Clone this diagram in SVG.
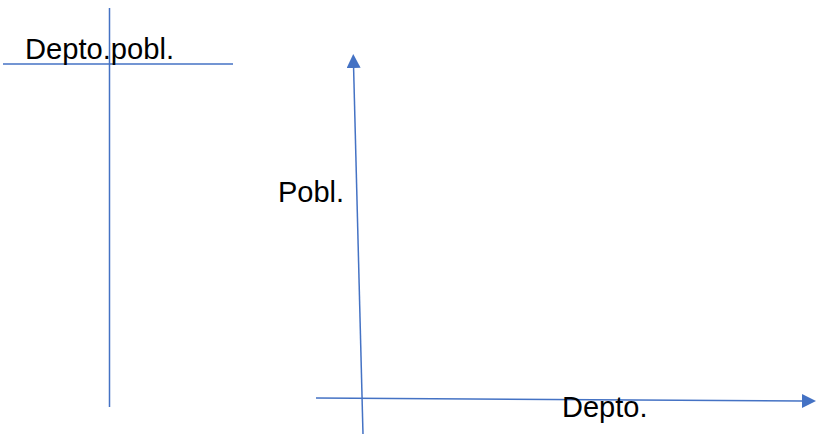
<svg xmlns="http://www.w3.org/2000/svg" width="817" height="434" viewBox="0 0 817 434">
<style>
.ln{stroke:#4472C4;stroke-width:1.5;fill:none}
.t{font-family:"Liberation Sans",Arial,sans-serif;font-size:29px;fill:#000}
</style>
<defs>
<marker id="ah2" markerWidth="14" markerHeight="14" refX="0" refY="7" orient="auto" markerUnits="userSpaceOnUse" viewBox="0 0 14 14">
<path d="M0,0 L14,7 L0,14 Z" fill="#4472C4"/>
</marker>
</defs>
<g id="connectors">
<line class="ln" x1="109.5" y1="8" x2="109.5" y2="407"/>
<line class="ln" x1="3" y1="64" x2="233" y2="64"/>
<line class="ln" x1="363" y1="434" x2="353.6" y2="68" marker-end="url(#ah2)"/>
<line class="ln" x1="316" y1="398" x2="802" y2="401" marker-end="url(#ah2)"/>
</g>
<g id="label-depto-pobl"><text class="t" x="25" y="59" textLength="149" lengthAdjust="spacingAndGlyphs">Depto.pobl.</text></g>
<g id="label-pobl"><text class="t" x="278" y="202">Pobl.</text></g>
<g id="label-depto"><text class="t" x="562" y="417">Depto.</text></g>
</svg>
